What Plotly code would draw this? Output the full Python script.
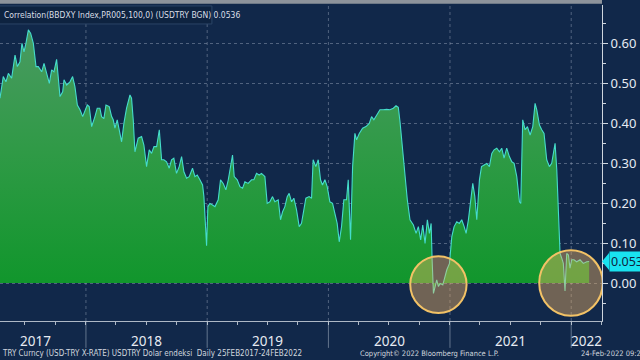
import pandas as pd
import plotly.graph_objects as go

# ---- data (decimal years, correlation values) ----
years = [
    2017.291, 2017.318, 2017.340, 2017.360, 2017.387, 2017.415, 2017.434, 2017.456, 2017.472, 2017.489,
    2017.505, 2017.525, 2017.544, 2017.566, 2017.588, 2017.607, 2017.635, 2017.654, 2017.676, 2017.698,
    2017.717, 2017.736, 2017.758, 2017.772, 2017.786, 2017.808, 2017.819, 2017.841, 2017.868, 2017.890,
    2017.909, 2017.929, 2017.951, 2017.973, 2017.992, 2018.011, 2018.027, 2018.047, 2018.074, 2018.093,
    2018.115, 2018.129, 2018.148, 2018.165, 2018.192, 2018.212, 2018.225, 2018.239, 2018.258, 2018.280,
    2018.294, 2018.313, 2018.335, 2018.363, 2018.376, 2018.390, 2018.404, 2018.431, 2018.459, 2018.478,
    2018.500, 2018.522, 2018.541, 2018.561, 2018.583, 2018.605, 2018.624, 2018.643, 2018.665, 2018.687,
    2018.706, 2018.725, 2018.747, 2018.769, 2018.789, 2018.808, 2018.830, 2018.852, 2018.879, 2018.899,
    2018.918, 2018.940, 2018.962, 2018.973, 2018.984, 2018.995, 2019.006, 2019.022,
    2019.044, 2019.064, 2019.091, 2019.110, 2019.132, 2019.154, 2019.174, 2019.193, 2019.209, 2019.223,
    2019.248, 2019.270, 2019.292, 2019.311, 2019.338, 2019.366, 2019.385, 2019.407, 2019.429, 2019.448,
    2019.476, 2019.495, 2019.517, 2019.539, 2019.558, 2019.586, 2019.605, 2019.622, 2019.641, 2019.660,
    2019.676, 2019.696, 2019.715, 2019.737, 2019.759, 2019.778, 2019.797, 2019.814, 2019.841, 2019.861,
    2019.874, 2019.896, 2019.916, 2019.935, 2019.951, 2019.971, 2019.990, 2020.012, 2020.034, 2020.053,
    2020.072, 2020.089, 2020.108, 2020.127, 2020.149, 2020.163, 2020.182, 2020.199, 2020.218, 2020.232,
    2020.254, 2020.281, 2020.309, 2020.336, 2020.355, 2020.374, 2020.396, 2020.424, 2020.451, 2020.479,
    2020.506, 2020.534, 2020.556, 2020.575, 2020.589,
    2020.611, 2020.630, 2020.649, 2020.671, 2020.699, 2020.721, 2020.740, 2020.759, 2020.776, 2020.795,
    2020.814, 2020.831, 2020.845, 2020.853, 2020.864, 2020.878, 2020.891, 2020.905, 2020.919, 2020.941,
    2020.960, 2020.974, 2020.996, 2021.015, 2021.034, 2021.056, 2021.078, 2021.097, 2021.117, 2021.133,
    2021.152, 2021.172, 2021.188, 2021.205, 2021.221, 2021.243, 2021.260, 2021.282, 2021.303, 2021.325,
    2021.345, 2021.364, 2021.386, 2021.408, 2021.427, 2021.446, 2021.468, 2021.490, 2021.510, 2021.529,
    2021.551, 2021.573, 2021.584, 2021.600, 2021.620, 2021.639, 2021.661, 2021.683, 2021.702, 2021.716,
    2021.738, 2021.757, 2021.776, 2021.798, 2021.820, 2021.839, 2021.853, 2021.867, 2021.881, 2021.894,
    2021.908, 2021.922, 2021.935, 2021.949, 2021.963, 2021.977, 2021.990, 2022.004, 2022.023, 2022.045,
    2022.073, 2022.100, 2022.128, 2022.148,
]
corr = [
    0.462, 0.516, 0.503, 0.524, 0.512, 0.570, 0.541, 0.553, 0.599, 0.578,
    0.599, 0.633, 0.624, 0.599, 0.541, 0.541, 0.528, 0.549, 0.524, 0.499,
    0.533, 0.528, 0.559, 0.508, 0.466, 0.478, 0.508, 0.495, 0.503, 0.516,
    0.491, 0.445, 0.433, 0.416, 0.433, 0.445, 0.441, 0.391, 0.416, 0.437,
    0.437, 0.416, 0.411, 0.445, 0.441, 0.416, 0.408, 0.387, 0.408, 0.374,
    0.353, 0.399, 0.437, 0.470, 0.462, 0.408, 0.328, 0.362, 0.366, 0.345,
    0.291, 0.333, 0.324, 0.341, 0.341, 0.383, 0.308, 0.308, 0.303, 0.287,
    0.308, 0.312, 0.274, 0.291, 0.316, 0.278, 0.262, 0.266, 0.287, 0.266,
    0.270, 0.258, 0.245, 0.216, 0.141, 0.093, 0.191, 0.199,
    0.195, 0.191, 0.208, 0.258, 0.249, 0.233, 0.258, 0.287, 0.320, 0.266,
    0.258, 0.241, 0.237, 0.253, 0.249, 0.258, 0.258, 0.274, 0.270, 0.274,
    0.266, 0.199, 0.203, 0.216, 0.203, 0.208, 0.158, 0.178, 0.191, 0.216,
    0.224, 0.203, 0.212, 0.183, 0.141, 0.149, 0.183, 0.212, 0.216, 0.212,
    0.308, 0.291, 0.308, 0.258, 0.245, 0.258, 0.241, 0.203, 0.199, 0.174,
    0.149, 0.103, 0.141, 0.208, 0.208, 0.258, 0.108, 0.291, 0.374, 0.358,
    0.374, 0.387, 0.391, 0.399, 0.416, 0.408, 0.420, 0.433, 0.433, 0.434,
    0.433, 0.437, 0.443, 0.439, 0.403,
    0.324, 0.266, 0.208, 0.158, 0.145, 0.124, 0.141, 0.108, 0.145, 0.099,
    0.158, 0.124, 0.149, 0.058, -0.026, -0.009, 0.008, -0.009, -0.001, -0.005,
    0.016, 0.033, 0.049, 0.116, 0.141, 0.153, 0.149, 0.158, 0.141, 0.124,
    0.158, 0.208, 0.249, 0.216, 0.158, 0.258, 0.291, 0.295, 0.299, 0.291,
    0.324, 0.333, 0.337, 0.328, 0.337, 0.312, 0.337, 0.316, 0.303, 0.299,
    0.266, 0.203, 0.199, 0.408, 0.383, 0.391, 0.370, 0.391, 0.449, 0.433,
    0.395, 0.383, 0.374, 0.308, 0.291, 0.299, 0.328, 0.349, 0.283, 0.191,
    0.074, 0.062, 0.049, -0.020, 0.074, 0.070, 0.037, 0.058, 0.058, 0.053,
    0.058, 0.049, 0.053, 0.0536,
]

year_labels = ["2017", "2018", "2019", "2020", "2021", "2022"]
year_label_pos = [2017.58, 2018.5, 2019.5, 2020.5, 2021.5, 2022.13]
year_starts = [2018, 2019, 2020, 2021, 2022]
y_ticks = [0.0, 0.1, 0.2, 0.3, 0.4, 0.5, 0.6]
last_value = 0.0536

# highlighted areas (centre year, centre value, half-width years, half-height value)
circles = [(2020.905, -0.004, 0.232, 0.071), (2021.998, 0.0, 0.262, 0.082)]

x_range = (2017.291, 2022.254)
y_range = (-0.095, 0.695)


def to_date(y):
    yi = int(y // 1)
    start = pd.Timestamp(year=yi, month=1, day=1)
    end = pd.Timestamp(year=yi + 1, month=1, day=1)
    return start + (end - start) * (y - yi)


dates = [to_date(v) for v in years]

NAVY = "#11284a"
fig = go.Figure()

fig.add_trace(go.Scatter(
    x=dates, y=corr, mode="lines",
    line=dict(color="#45dccb", width=1.1),
    fill="tozeroy",
    fillgradient=dict(type="vertical", start=0.65, stop=0.0,
                      colorscale=[[0, "#4b9a63"], [0.5, "#2f9a46"], [1, "#11962c"]]),
    hoverinfo="skip", showlegend=False,
))

shapes = []
for ys in year_starts:
    d = to_date(ys)
    shapes.append(dict(type="line", xref="x", yref="paper", x0=d, x1=d, y0=0, y1=1,
                       line=dict(color="rgba(200,210,225,0.35)", width=1, dash="dot"), layer="below"))
    shapes.append(dict(type="line", xref="x", yref="paper", x0=d, x1=d, y0=0, y1=-0.085,
                       line=dict(color="rgba(200,210,225,0.45)", width=1)))
for cx, cy, hw, hh in circles:
    shapes.append(dict(type="circle", xref="x", yref="y",
                       x0=to_date(cx - hw), x1=to_date(cx + hw), y0=cy - hh, y1=cy + hh,
                       fillcolor="rgba(245,180,100,0.42)", line=dict(color="#f2c266", width=2)))
shapes.append(dict(type="rect", xref="paper", yref="paper", x0=0, x1=1, y0=1.004, y1=1.016,
                   fillcolor="#8d939b", line=dict(width=0)))
shapes.append(dict(type="rect", xref="paper", yref="paper", x0=-0.01, x1=0.352, y0=0.94, y1=0.997,
                   fillcolor="#0e2340", line=dict(color="#2b4566", width=1)))
shapes.append(dict(type="path", xref="paper", yref="y",
                   path=f"M 1.0 {last_value} L 1.012 {last_value + 0.022} L 1.012 {last_value - 0.022} Z",
                   fillcolor="#19e3f0", line=dict(width=0)))

foot_font = dict(size=7.5, color="#d0d6de", family="DejaVu Sans Condensed")
annotations = []
for lab, pos in zip(year_labels, year_label_pos):
    annotations.append(dict(x=to_date(pos), y=-0.063, xref="x", yref="paper", text=lab,
                            showarrow=False, yanchor="middle",
                            font=dict(size=13.5, color="#e6ebf2", family="Noto Sans")))
annotations += [
    dict(x=0.003, y=0.968, xref="paper", yref="paper", xanchor="left", yanchor="middle",
         text="Correlation(BBDXY Index,PR005,100,0) (USDTRY BGN) 0.0536", showarrow=False,
         font=dict(size=8.5, color="#d9dee6", family="DejaVu Sans Condensed")),
    dict(x=1.012, y=last_value, xref="paper", yref="y", xanchor="left", yanchor="middle",
         text="0.053", showarrow=False, bgcolor="#19e3f0", borderpad=1,
         font=dict(size=12.5, color="#0d2440", family="Noto Sans")),
    dict(x=0.0, y=-0.104, xref="paper", yref="paper", xanchor="left", yanchor="middle",
         text="TRY Curncy (USD-TRY X-RATE) USDTRY Dolar endeksi  Daily 25FEB2017-24FEB2022",
         showarrow=False, font=dict(size=8, color="#d0d6de", family="DejaVu Sans Condensed")),
    dict(x=358 / 602, y=-0.104, xref="paper", yref="paper", xanchor="left", yanchor="middle",
         text="Copyright\u00a9 2022 Bloomberg Finance L.P.", showarrow=False, font=foot_font),
    dict(x=579 / 602, y=-0.104, xref="paper", yref="paper", xanchor="left", yanchor="middle",
         text="24-Feb-2022 09:20", showarrow=False, font=foot_font),
]

fig.update_layout(
    width=640, height=360,
    margin=dict(l=0, r=38, t=5, b=39, autoexpand=False),
    paper_bgcolor=NAVY, plot_bgcolor=NAVY,
    shapes=shapes, annotations=annotations,
    xaxis=dict(type="date", range=[to_date(x_range[0]), to_date(x_range[1])], automargin=False,
               showgrid=False, zeroline=False, showticklabels=False,
               tickmode="linear", tick0="2018-01-01", dtick="M3",
               ticks="outside", ticklen=3, tickcolor="#aeb8c6",
               showline=True, linecolor="#aeb8c6", linewidth=1),
    yaxis=dict(side="right", range=list(y_range), tickvals=y_ticks, tickformat=".2f", automargin=False,
               ticks="outside", ticklen=5, tickcolor="#cfd6de",
               minor=dict(dtick=0.05, tick0=0, ticks="outside", ticklen=3, tickcolor="#cfd6de"),
               showline=True, linecolor="#cfd6de", linewidth=1,
               showgrid=True, gridcolor="rgba(200,210,225,0.35)", griddash="dot", gridwidth=1,
               zeroline=False,
               tickfont=dict(size=13, color="#e6ebf2", family="Noto Sans")),
)

fig.write_html("out.html", config={"displayModeBar": False},
               post_script="document.body.style.margin='0';document.body.style.background='#11284a';")
